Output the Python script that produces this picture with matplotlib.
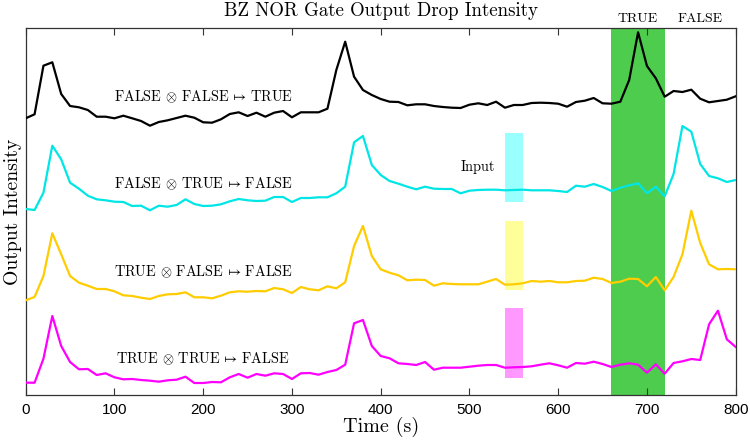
import matplotlib
matplotlib.use("Agg")
import matplotlib.pyplot as plt
import matplotlib.transforms as mtransforms
import numpy as np

plt.rcParams['mathtext.fontset'] = 'cm'
plt.rcParams['axes.unicode_minus'] = False

time_s = list(range(0, 801, 10))

ff_true = [276.7, 280.7, 329.3, 332.7, 301, 289, 287.7, 285, 278.3, 278.3,
           276.7, 279.3, 276.7, 274, 269.3, 273, 274.7, 277, 279.3, 277.3,
           272.7, 272.3, 275.7, 281, 282.7, 279, 282.3, 278.3, 282.3, 284,
           277.7, 282.7, 282.7, 282.7, 286.3, 325, 353.3, 318.3, 305, 300,
           296, 293.3, 293, 289.7, 290.7, 290.7, 289, 288, 287.3, 287,
           290.3, 291.7, 290, 293.3, 287.3, 290, 290, 292, 292.3, 292,
           291.3, 288.3, 293, 294.3, 297, 291.7, 291.3, 293.3, 315, 362.7,
           329, 316.7, 298.3, 304, 303, 305.3, 296.3, 292.7, 294, 295.3, 298.7]

ft_false = [186, 185, 202.3, 249.3, 235.7, 212.3, 206.3, 199.3, 195.7, 194.7,
            193.3, 193, 189, 189.3, 184.7, 189.3, 188.3, 190, 195.7, 191,
            189, 189.3, 190.7, 193.7, 196, 194.7, 194, 194.3, 198, 198,
            193, 197, 197, 197.7, 197.7, 201.7, 208.3, 252.7, 259, 230,
            220, 214, 211.3, 208.3, 205.7, 208.3, 206.3, 206, 206, 201.7,
            204.3, 205, 205.3, 205.3, 204.7, 205, 205.3, 204.7, 204.7, 204.7,
            204, 203, 209.3, 208.3, 211, 208, 204, 207.3, 209.7, 211.7,
            201.7, 208.3, 198.7, 221, 269, 263.3, 231, 219, 216.7, 213, 215]

tf_false = [94.7, 98, 119, 161.7, 140.7, 119, 112.3, 109.3, 106, 106,
            103.7, 99.7, 99, 97.3, 96, 99, 100.7, 101, 102.7, 97.7,
            97.7, 96.7, 99.3, 102.7, 103.7, 103.3, 104, 103.7, 107, 105.7,
            102, 108, 105.7, 104.7, 108.7, 106.7, 112.7, 149, 169, 139,
            125.7, 122.3, 119.7, 114.7, 115.3, 115, 109.3, 111.7, 111, 110.7,
            110.7, 110.7, 113.3, 116, 110.3, 110.7, 111.7, 114, 113.3, 114,
            112.7, 112.7, 114, 114.3, 117.3, 116, 112, 113.3, 116.3, 116,
            108.7, 118, 104.7, 118, 140.7, 184.3, 152, 130.7, 125.7, 126, 125.7]

tt_false = [12.3, 12.3, 36.3, 79, 49, 33, 25.7, 26, 20, 21.7,
            17.7, 15.7, 16, 15, 14.3, 13.3, 14.7, 15.3, 18.3, 12,
            12, 13, 12.7, 17.7, 21, 17.3, 21, 19.3, 21.7, 21,
            16, 21.7, 22, 20.3, 23, 25, 30.3, 71.7, 75, 49,
            39, 36.7, 31.7, 31, 30, 33, 25.3, 27.3, 27.3, 27.3,
            28.3, 29.3, 30, 30, 27.3, 27.7, 28, 28.7, 30.3, 31.7,
            29.7, 27.3, 32, 31.3, 33.3, 31, 28, 30.3, 31.7, 30.3,
            22.3, 30.7, 21.3, 32, 33.7, 36, 35, 70.7, 84.3, 55.7, 48]

series_labels = [r"FALSE $\otimes$ FALSE$\,\mapsto\,$TRUE",
                 r"FALSE $\otimes$ TRUE$\,\mapsto\,$FALSE",
                 r"TRUE $\otimes$ FALSE$\,\mapsto\,$FALSE",
                 r"TRUE $\otimes$ TRUE$\,\mapsto\,$FALSE"]
label_y = [298, 211, 123, 36.3]
series_colors = ['black', (0.0, 0.9, 0.9), (1.0, 0.8, 0.0), (1.0, 0.0, 1.0)]

input_window = (540, 560)
input_bar_low = [192.7, 104.7, 17.3]
input_bar_high = [262, 174.3, 87]
input_bar_colors = [(0.6, 1.0, 1.0), (1.0, 1.0, 0.6), (1.0, 0.6, 1.0)]

output_window = (660, 720)
x_ticks = [0, 100, 200, 300, 400, 500, 600, 700, 800]

fig = plt.figure(figsize=(7.5, 4.42), dpi=100)
ax = fig.add_axes([25.7 / 750, 47 / 442, 710 / 750, 367 / 442])

serif = 'cmr10'

ax.axvspan(output_window[0], output_window[1], color=(0.3, 0.8, 0.3), lw=0, zorder=1)
for lo, hi, c in zip(input_bar_low, input_bar_high, input_bar_colors):
    ax.fill_between(input_window, [lo, lo], [hi, hi], color=c, lw=0, zorder=1)

for ys, c in zip([ff_true, ft_false, tf_false, tt_false], series_colors):
    ax.plot(time_s, ys, color=c, lw=1.6, zorder=3)

for lab, yy in zip(series_labels, label_y):
    ax.text(200, yy, lab, ha='center', va='center', fontsize=10.3, family=serif, zorder=4)
ax.text(510, 228.3, "Input", ha='center', va='center', fontsize=10.4, family=serif)

trans = mtransforms.blended_transform_factory(ax.transData, ax.transAxes)
ax.text(690, 1.008, "TRUE", transform=trans, ha='center', va='bottom', fontsize=10, family=serif)
ax.text(760, 1.008, "FALSE", transform=trans, ha='center', va='bottom', fontsize=10, family=serif)

ax.set_xlim(0, 800)
ax.set_ylim(0, 367)
ax.set_xticks(x_ticks)
ax.set_xticklabels([str(t) for t in x_ticks], family='Liberation Sans', fontsize=11)
ax.set_yticks([])
ax.tick_params(axis='x', direction='in', top=True, bottom=True, length=5, width=0.8, color='#333333', pad=6)
for s in ax.spines.values():
    s.set_color('#333333')
    s.set_linewidth(0.9)

ax.set_title("BZ NOR Gate Output Drop Intensity", family=serif, fontsize=13.6, pad=9)
ax.set_xlabel("Time (s)", family=serif, fontsize=14.5, labelpad=0)
ax.set_ylabel("Output Intensity", family=serif, fontsize=14.2, labelpad=3)

fig.savefig("out.png", dpi=100)
